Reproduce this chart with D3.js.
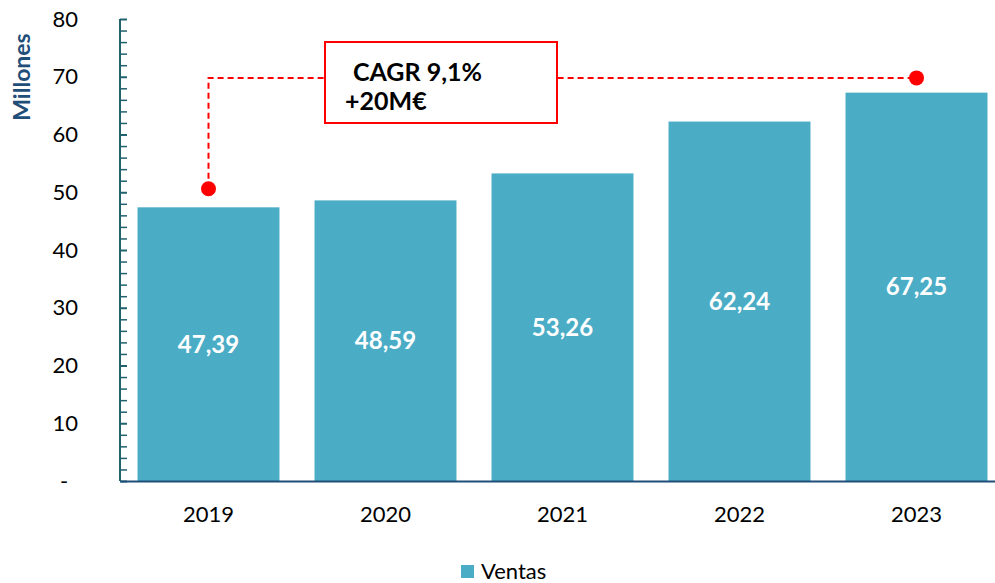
<!DOCTYPE html>
<html>
<head>
<meta charset="utf-8">
<script src="https://cdn.jsdelivr.net/npm/d3@7"></script>
<style>
  body { margin: 0; background: #fff; }
  text { font-family: Lato, "Open Sans", sans-serif; }
</style>
</head>
<body>
<div id="chart"></div>
<script>
// data
var years = ["2019", "2020", "2021", "2022", "2023"];
var ventas = [47.39, 48.59, 53.26, 62.24, 67.25];
var yTicks = [0, 10, 20, 30, 40, 50, 60, 70, 80];
var cagrLabel = ["CAGR 9,1%", "+20M€"];
var cagrStart = 50.6;   // dot height above 2019 (millions)
var cagrEnd = 69.8;     // dot height above 2023 / line level

var svgWidth = 995;
var svgHeight = 583;
var margin = { top: 19, right: -10, bottom: 102, left: 120 };
var width = svgWidth - margin.left - margin.right;
var height = svgHeight - margin.top - margin.bottom;

var svg = d3.select("#chart")
  .append("svg")
  .attr("width", svgWidth)
  .attr("height", svgHeight);

var chart = svg.append("g")
  .attr("transform", `translate(${margin.left}, ${margin.top})`);

var x = d3.scaleBand()
  .domain(years)
  .range([0, width])
  .paddingInner(0.198)
  .paddingOuter(0.099);

var y = d3.scaleLinear()
  .domain([0, 80])
  .range([height, 0]);

var fmt = v => v.toFixed(2).replace(".", ",");

// bars
chart.selectAll("rect.bar")
  .data(ventas)
  .enter()
  .append("rect")
  .attr("class", "bar")
  .attr("x", (d, i) => x(years[i]))
  .attr("y", d => y(d))
  .attr("width", x.bandwidth())
  .attr("height", d => height - y(d))
  .attr("fill", "#4BACC6");

// value labels
chart.selectAll("text.val")
  .data(ventas)
  .enter()
  .append("text")
  .attr("class", "val")
  .attr("x", (d, i) => x(years[i]) + x.bandwidth() / 2)
  .attr("y", d => (y(d) + height) / 2)
  .attr("dy", "0.35em")
  .attr("text-anchor", "middle")
  .attr("fill", "#fff")
  .style("font-size", "24px")
  .style("font-weight", "bold")
  .text(d => fmt(d));

// y axis with minor ticks
var minor = d3.range(0, 81, 2);
var leftAxis = d3.axisRight(y)
  .tickValues(minor)
  .tickSize(7)
  .tickFormat("");
var yAxis = chart.append("g").call(leftAxis);
yAxis.select(".domain").attr("d", `M0,0V${height}`).attr("stroke", "#20626E").attr("stroke-width", 2);
yAxis.selectAll(".tick line").attr("stroke", "#20626E").attr("stroke-width", d => d % 10 === 0 ? 2 : 1.5);

// y tick labels
chart.selectAll("text.ylab")
  .data(yTicks)
  .enter()
  .append("text")
  .attr("class", "ylab")
  .attr("x", d => d === 0 ? -60 : -42)
  .attr("y", d => y(d))
  .attr("dy", "0.35em")
  .attr("text-anchor", d => d === 0 ? "start" : "end")
  .style("font-size", "22px")
  .attr("fill", "#000")
  .text(d => d === 0 ? "-" : d);

// x axis
var bottomAxis = d3.axisBottom(x).tickSize(0).tickPadding(25);
var xAxis = chart.append("g")
  .attr("transform", `translate(0, ${height})`)
  .call(bottomAxis);
xAxis.select(".domain").attr("stroke", "#1F4E79").attr("stroke-width", 2);
xAxis.selectAll(".tick text")
  .style("font-size", "22px")
  .style("font-family", "Lato, 'Open Sans', sans-serif")
  .attr("fill", "#000");

// y label
svg.append("text")
  .attr("transform", "rotate(-90)")
  .attr("x", -77)
  .attr("y", 30)
  .attr("text-anchor", "middle")
  .attr("fill", "#1F4E79")
  .style("font-size", "23px")
  .style("font-weight", "bold")
  .text("Millones");

// CAGR annotation
var x0 = x(years[0]) + x.bandwidth() / 2;
var x1 = x(years[4]) + x.bandwidth() / 2;
chart.append("path")
  .attr("d", `M${x0},${y(cagrStart)}V${y(cagrEnd)}H${x1}`)
  .attr("fill", "none")
  .attr("stroke", "#FF0000")
  .attr("stroke-width", 2)
  .attr("stroke-dasharray", "6,4");

chart.selectAll("circle.dot")
  .data([[x0, cagrStart], [x1, cagrEnd]])
  .enter()
  .append("circle")
  .attr("cx", d => d[0])
  .attr("cy", d => y(d[1]))
  .attr("r", 7.5)
  .attr("fill", "#FF0000");

var box = svg.append("g");
box.append("rect")
  .attr("x", 325)
  .attr("y", 42)
  .attr("width", 232)
  .attr("height", 81)
  .attr("fill", "#fff")
  .attr("stroke", "#FF0000")
  .attr("stroke-width", 2);
box.selectAll("text")
  .data(cagrLabel)
  .enter()
  .append("text")
  .attr("x", (d, i) => i === 0 ? 353 : 345)
  .attr("y", (d, i) => 81 + i * 29)
  .attr("fill", "#000")
  .style("font-size", "25px")
  .style("font-weight", "bold")
  .text(d => d);

// legend
var legend = svg.append("g").attr("transform", "translate(461, 565)");
legend.append("rect").attr("width", 13).attr("height", 13).attr("fill", "#4BACC6");
legend.append("text")
  .attr("x", 20)
  .attr("y", 6)
  .attr("dy", "0.35em")
  .style("font-size", "22px")
  .attr("fill", "#000")
  .text("Ventas");
</script>
</body>
</html>
